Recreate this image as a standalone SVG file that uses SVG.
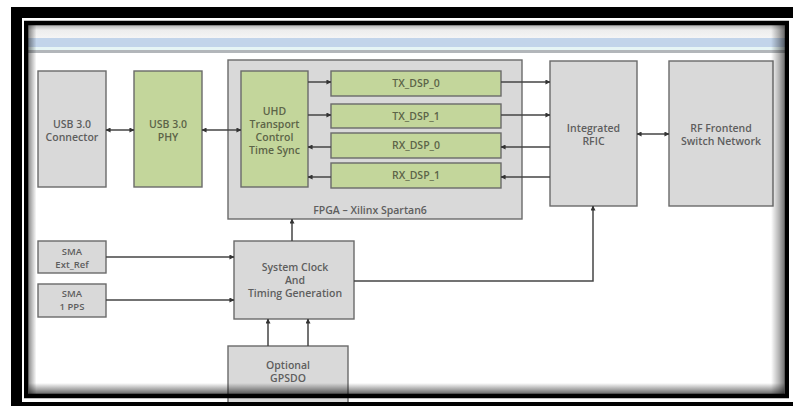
<svg xmlns="http://www.w3.org/2000/svg" width="793" height="406" viewBox="0 0 793 406">
  <defs>
    <style>
      .box { fill: #d9d9d9; stroke: #6a6a6a; stroke-width: 1.4; }
      .grn { fill: #c3d69b; stroke: #6a6a6a; stroke-width: 1.4; }
      .lbl { font-family: "Open Sans", "Liberation Sans", sans-serif; font-size: 10.5px; font-weight: 600; fill: #5e5e5e; text-anchor: middle; }
      .sm { font-size: 9.5px; }
      .glbl { fill: #5c6448; }
      .wire { fill: none; stroke: #454545; stroke-width: 1.5; }
      .one { marker-end: url(#head); }
      .two { marker-start: url(#head); marker-end: url(#head); }
    </style>
    <marker id="head" viewBox="0 0 6 6" refX="5.5" refY="3" markerWidth="5" markerHeight="5" markerUnits="userSpaceOnUse" orient="auto-start-reverse">
      <path d="M0,0 L6,3 L0,6 z" fill="#333"/>
    </marker>
    <linearGradient id="shadeL" x1="0" y1="0" x2="1" y2="0">
      <stop offset="0" stop-color="#000" stop-opacity="0.45"/>
      <stop offset="1" stop-color="#000" stop-opacity="0"/>
    </linearGradient>
    <linearGradient id="shadeR" x1="1" y1="0" x2="0" y2="0">
      <stop offset="0" stop-color="#000" stop-opacity="0.55"/>
      <stop offset="0.4" stop-color="#000" stop-opacity="0.3"/>
      <stop offset="1" stop-color="#000" stop-opacity="0"/>
    </linearGradient>
    <linearGradient id="shadeB" x1="0" y1="1" x2="0" y2="0">
      <stop offset="0" stop-color="#000" stop-opacity="0.6"/>
      <stop offset="1" stop-color="#000" stop-opacity="0"/>
    </linearGradient>
    <linearGradient id="shadeT" x1="0" y1="0" x2="0" y2="1">
      <stop offset="0" stop-color="#000" stop-opacity="0.3"/>
      <stop offset="0.4" stop-color="#000" stop-opacity="0.07"/>
      <stop offset="1" stop-color="#000" stop-opacity="0.04"/>
    </linearGradient>
  </defs>

  <!-- page -->
  <rect width="793" height="406" fill="#fff"/>

  <!-- header strip -->
  <rect x="28" y="38" width="757" height="9" fill="#c2d4ea"/>
  <rect x="28" y="47" width="757" height="3" fill="#e6f5f5"/>
  <rect x="28" y="50" width="757" height="3" fill="#b2b6ba"/>

  <!-- FPGA container -->
  <g id="fpga">
    <rect class="box" x="228" y="60" width="294" height="159"/>
    <text class="lbl" x="370" y="214">FPGA – Xilinx Spartan6</text>
  </g>

  <g id="usb-connector">
    <rect class="box" x="38" y="71" width="68" height="116"/>
    <text class="lbl" x="72" y="128">USB 3.0</text>
    <text class="lbl" x="72" y="141">Connector</text>
  </g>

  <g id="usb-phy">
    <rect class="grn" x="134" y="71" width="68" height="116"/>
    <text class="lbl glbl" x="168" y="128">USB 3.0</text>
    <text class="lbl glbl" x="168" y="141">PHY</text>
  </g>

  <g id="uhd">
    <rect class="grn" x="241" y="71" width="67" height="116"/>
    <text class="lbl glbl" x="274.5" y="115">UHD</text>
    <text class="lbl glbl" x="274.5" y="128">Transport</text>
    <text class="lbl glbl" x="274.5" y="141">Control</text>
    <text class="lbl glbl" x="274.5" y="154">Time Sync</text>
  </g>

  <g id="tx-dsp-0">
    <rect class="grn" x="331" y="71" width="170" height="25"/>
    <text class="lbl glbl" x="416" y="87">TX_DSP_0</text>
  </g>
  <g id="tx-dsp-1">
    <rect class="grn" x="331" y="104" width="170" height="24"/>
    <text class="lbl glbl" x="416" y="120">TX_DSP_1</text>
  </g>
  <g id="rx-dsp-0">
    <rect class="grn" x="331" y="133" width="170" height="25"/>
    <text class="lbl glbl" x="416" y="149">RX_DSP_0</text>
  </g>
  <g id="rx-dsp-1">
    <rect class="grn" x="331" y="163" width="170" height="25"/>
    <text class="lbl glbl" x="416" y="179">RX_DSP_1</text>
  </g>

  <g id="rfic">
    <rect class="box" x="550" y="61" width="87" height="145"/>
    <text class="lbl" x="593.5" y="132">Integrated</text>
    <text class="lbl" x="593.5" y="145">RFIC</text>
  </g>

  <g id="rf-frontend">
    <rect class="box" x="669" y="61" width="104" height="145"/>
    <text class="lbl" x="721" y="132">RF Frontend</text>
    <text class="lbl" x="721" y="145">Switch Network</text>
  </g>

  <g id="sma-ext-ref">
    <rect class="box" x="38" y="241" width="68" height="32"/>
    <text class="lbl sm" x="72" y="255">SMA</text>
    <text class="lbl sm" x="72" y="268">Ext_Ref</text>
  </g>

  <g id="sma-1pps">
    <rect class="box" x="38" y="284" width="68" height="33"/>
    <text class="lbl sm" x="72" y="297">SMA</text>
    <text class="lbl sm" x="72" y="310">1 PPS</text>
  </g>

  <g id="sys-clock">
    <rect class="box" x="234" y="241" width="120" height="78"/>
    <text class="lbl" x="295" y="271">System Clock</text>
    <text class="lbl" x="295" y="284">And</text>
    <text class="lbl" x="295" y="297">Timing Generation</text>
  </g>

  <g id="gpsdo">
    <rect class="box" x="228" y="346" width="120" height="60"/>
    <text class="lbl" x="288" y="369">Optional</text>
    <text class="lbl" x="288" y="382">GPSDO</text>
  </g>

  <!-- connectors -->
  <g id="connectors">
    <path class="wire two" d="M106,130 H134"/>
    <path class="wire two" d="M202,130 H241"/>
    <path class="wire one" d="M308,82 H331"/>
    <path class="wire one" d="M308,115 H331"/>
    <path class="wire one" d="M331,147 H308"/>
    <path class="wire one" d="M331,177 H308"/>
    <path class="wire one" d="M501,82 H550"/>
    <path class="wire one" d="M501,115 H550"/>
    <path class="wire one" d="M550,147 H501"/>
    <path class="wire one" d="M550,177 H501"/>
    <path class="wire two" d="M637,134 H669"/>
    <path class="wire one" d="M106,257 H234"/>
    <path class="wire one" d="M106,300 H234"/>
    <path class="wire one" d="M292,241 V219"/>
    <path class="wire one" d="M354,281 H593 V206"/>
    <path class="wire one" d="M268,346 V319"/>
    <path class="wire one" d="M308,346 V319"/>
  </g>

  <!-- inner edge shading of the framed panel -->
  <rect x="28.5" y="25" width="756" height="13" fill="url(#shadeT)"/>
  <rect x="28.5" y="25" width="8" height="369" fill="url(#shadeL)"/>
  <rect x="771" y="25" width="13.5" height="369" fill="url(#shadeR)"/>
  <rect x="28.5" y="383" width="756" height="11" fill="url(#shadeB)"/>

  <!-- double frame -->
  <rect x="26.25" y="23" width="760.5" height="373" fill="none" stroke="#000" stroke-width="4.5"/>
  <rect x="16.5" y="12.5" width="790" height="395" fill="none" stroke="#000" stroke-width="11"/>
</svg>
